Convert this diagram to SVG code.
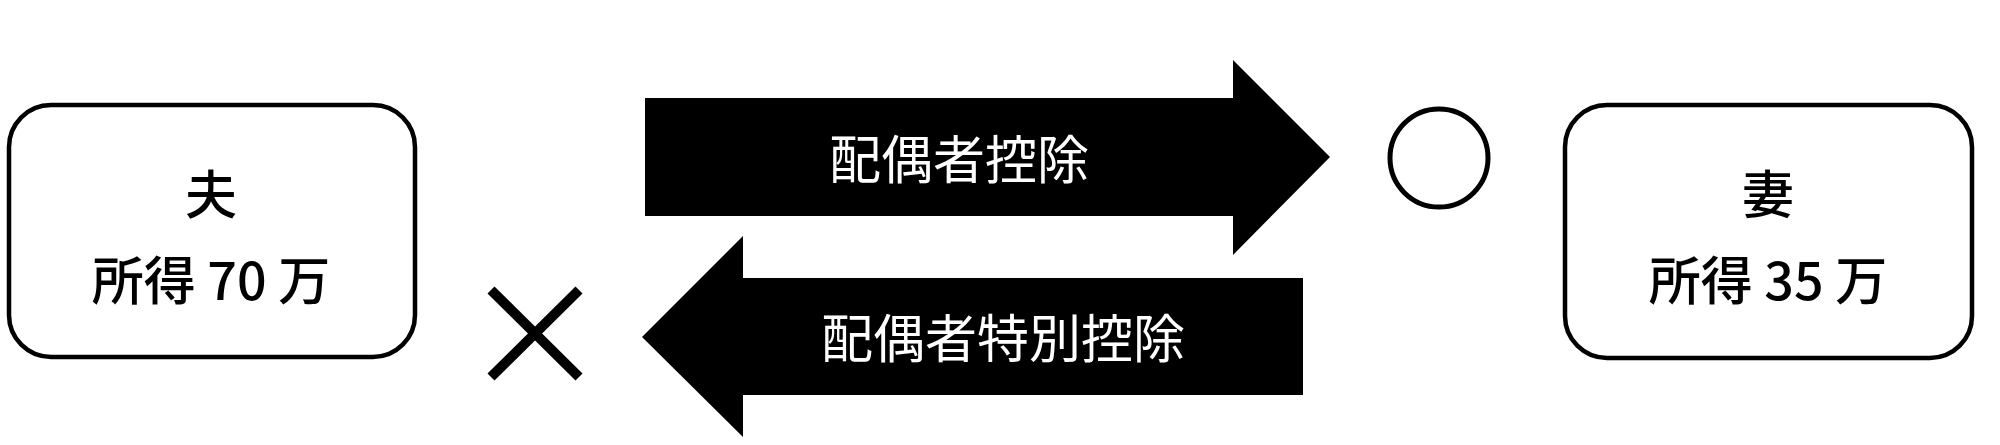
<svg xmlns="http://www.w3.org/2000/svg" width="2000" height="445" viewBox="0 0 2000 445">
<style>
.box{fill:#fff;stroke:#000;stroke-width:4.5}
.t{font-family:"Noto Sans CJK JP","Noto Sans CJK SC",sans-serif;font-size:52px;font-weight:500;fill:#000;text-anchor:middle}
.w{font-family:"Noto Sans CJK JP","Noto Sans CJK SC",sans-serif;font-size:52px;fill:#fff;text-anchor:middle}
.arrow{fill:#000}
</style>
<rect width="2000" height="445" fill="#fff"/>
<g id="husband">
<rect class="box" x="9" y="105" width="406" height="252" rx="42" ry="42"/>
<text class="t" x="211" y="214">夫</text>
<text class="t" x="211" y="300">所得 70 万</text>
</g>
<g id="wife">
<rect class="box" x="1565" y="105" width="407" height="253" rx="42" ry="42"/>
<text class="t" x="1768" y="214">妻</text>
<text class="t" x="1768" y="300">所得 35 万</text>
</g>
<g id="connectors">
<g id="arrow-spouse">
<polygon class="arrow" points="645,98 1233,98 1233,60 1330,157 1233,255 1233,216 645,216"/>
<text class="w" x="959" y="179">配偶者控除</text>
</g>
<g id="arrow-special">
<polygon class="arrow" points="1303,278 743,278 743,236 642,337 743,437 743,395 1303,395"/>
<text class="w" x="1003" y="358">配偶者特別控除</text>
</g>
</g>
<g id="circle-mark">
<circle cx="1439" cy="158" r="49" fill="none" stroke="#000" stroke-width="5"/>
</g>
<g id="cross-mark">
<line x1="491" y1="290" x2="579" y2="377" stroke="#000" stroke-width="10"/>
<line x1="579" y1="290" x2="491" y2="377" stroke="#000" stroke-width="10"/>
</g>
</svg>
